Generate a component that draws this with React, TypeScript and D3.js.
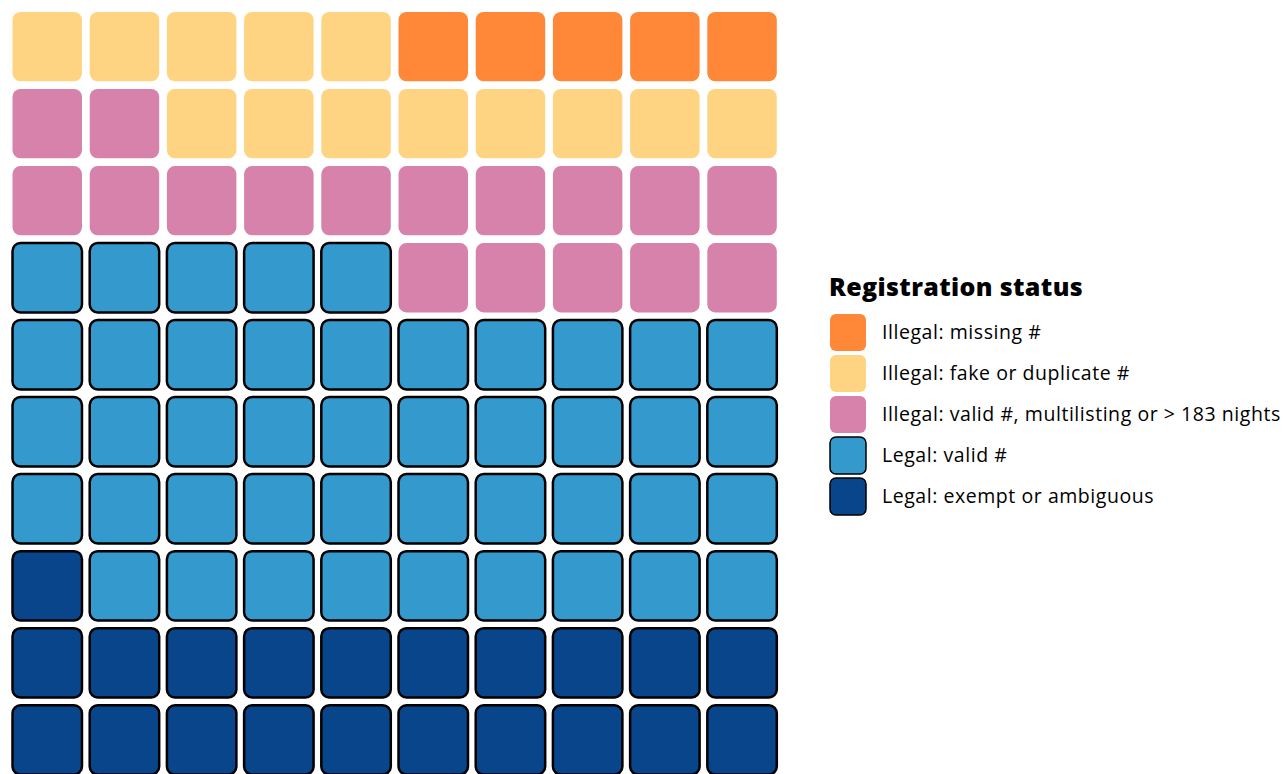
import { useRef, useEffect } from 'react'
import * as d3 from 'd3'

const CATEGORIES = [
  'Illegal: missing #',
  'Illegal: fake or duplicate #',
  'Illegal: valid #, multilisting or > 183 nights',
  'Legal: valid #',
  'Legal: exempt or ambiguous',
]
const COUNTS = [5, 13, 17, 44, 21]
const COLORS = ['#fe8837', '#fed483', '#d682ab', '#3499cc', '#08458a']
const OUTLINED = [false, false, false, true, true]
const LEGEND_TITLE = 'Registration status'

const W = 1286
const H = 774
const FONT = '"Open Sans", Lato, sans-serif'

export default function App() {
  const svgRef = useRef<SVGSVGElement>(null)

  useEffect(() => {
    if (!svgRef.current) return
    const svg = d3.select(svgRef.current)
    svg.selectAll('*').remove()

    // tiles fill from bottom-left, row by row upward, last category first
    const cells: { cat: number; col: number; row: number }[] = []
    let i = 0
    for (let c = CATEGORIES.length - 1; c >= 0; c--) {
      for (let k = 0; k < COUNTS[c]; k++) {
        cells.push({ cat: c, col: i % 10, row: 9 - Math.floor(i / 10) })
        i++
      }
    }

    const idx = d3.range(10)
    const x = d3.scaleBand<number>().domain(idx).range([12.5, 776.8]).paddingInner(0.1)
    const y = d3.scaleBand<number>().domain(idx).range([12, 774.5]).paddingInner(0.1)

    svg
      .append('g')
      .selectAll('rect')
      .data(cells)
      .join('rect')
      .attr('x', (d) => x(d.col)!)
      .attr('y', (d) => y(d.row)!)
      .attr('width', x.bandwidth())
      .attr('height', y.bandwidth())
      .attr('rx', 8)
      .attr('fill', (d) => COLORS[d.cat])
      .attr('stroke', (d) => (OUTLINED[d.cat] ? '#000' : 'none'))
      .attr('stroke-width', 2.5)

    // legend
    const lg = svg.append('g').attr('transform', 'translate(829,0)')
    lg.append('text')
      .attr('x', 0)
      .attr('y', 296)
      .attr('font-family', FONT)
      .attr('font-weight', 800)
      .attr('font-size', 25)
      .attr('letter-spacing', 0.35)
      .attr('fill', '#000')
      .text(LEGEND_TITLE)

    const ly = d3.scaleBand<number>().domain(d3.range(CATEGORIES.length)).range([314, 515]).paddingInner(0.1)
    const items = lg
      .selectAll('g.item')
      .data(CATEGORIES)
      .join('g')
      .attr('class', 'item')
      .attr('transform', (_, j) => `translate(0,${ly(j)})`)

    items
      .append('rect')
      .attr('x', 1)
      .attr('y', 0)
      .attr('width', 36)
      .attr('height', ly.bandwidth())
      .attr('rx', 6)
      .attr('fill', (_, j) => COLORS[j])
      .attr('stroke', (_, j) => (OUTLINED[j] ? '#000' : 'none'))
      .attr('stroke-width', 1.5)

    items
      .append('text')
      .attr('x', 53)
      .attr('y', ly.bandwidth() / 2)
      .attr('dy', '0.35em')
      .attr('font-family', FONT)
      .attr('font-size', 19.5)
      .attr('letter-spacing', 0.55)
      .attr('fill', '#000')
      .text((d) => d)
  }, [])

  return (
    <div style={{ position: 'absolute', left: 0, top: 0 }}>
      <svg ref={svgRef} width={W} height={H} style={{ display: 'block', background: '#fff' }} />
    </div>
  )
}
